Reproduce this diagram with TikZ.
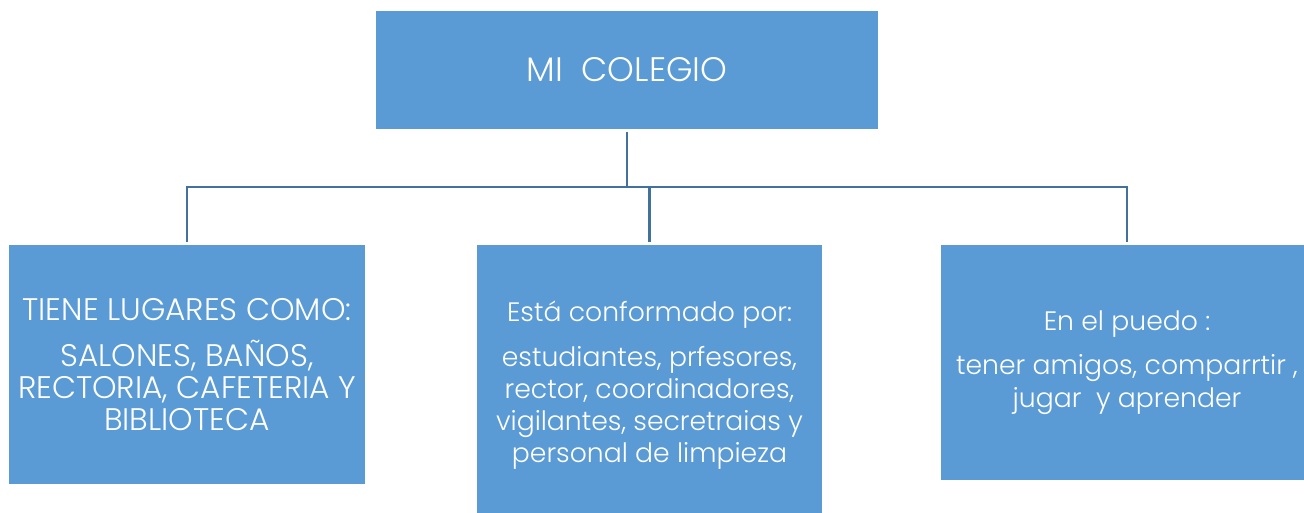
\documentclass[tikz,border=0pt]{standalone}
\usepackage{fontspec}
\IfFontExistsTF{Poppins Light}{\setmainfont{Poppins Light}}{\setmainfont{Poppins}}
\definecolor{boxblue}{HTML}{5B9BD5}
\definecolor{linkblue}{HTML}{41719C}

\begin{document}
\begin{tikzpicture}[x=0.75pt,y=0.75pt]
    \tikzstyle{every node}+=[inner sep=0pt]
    \tikzstyle{box}=[fill=boxblue, text=white, align=center, outer sep=2pt]
    \tikzstyle{capstext}=[font=\fontsize{23.4}{24}\selectfont]
    \tikzstyle{lowtext}=[font=\fontsize{20}{24.2}\selectfont]
    \tikzstyle{link}=[linkblue, line width=1.6pt]
    \useasboundingbox (0,0) rectangle (1304,-512);
    \clip (0,0) rectangle (1304,-512);
    \node [box, font=\fontsize{25.5}{26}\selectfont, minimum width=376.5pt, minimum height=88.5pt] (colegio) at (627,-70) {MI\ \ COLEGIO};
    \node [box, capstext, minimum width=267pt, minimum height=179.25pt] (lugares) at (187,-364.5) {TIENE LUGARES COMO:\\[10pt]SALONES, BAÑOS,\\RECTORIA, CAFETERIA Y\\BIBLIOTECA};
    \node [box, lowtext, minimum width=258.75pt, minimum height=210.75pt] (personas) at (649.5,-385.5) {Está conformado por:\\[9pt]estudiantes, prfesores,\\rector, coordinadores,\\vigilantes, secretraias y\\personal de limpieza};
    \node [box, lowtext, minimum width=279pt, minimum height=176.25pt] (acciones) at (1127,-362.5) {En el puedo :\\[9pt]tener amigos, comparrtir ,\\jugar\ \ y aprender};
    \coordinate (bus) at (627,-187);
    \draw [link] (colegio.south) -- (bus);
    \draw [link] (lugares.north) |- (bus) -| (acciones.north);
    \draw [link] (personas.north) -- (personas.north |- bus);
\end{tikzpicture}
\end{document}
